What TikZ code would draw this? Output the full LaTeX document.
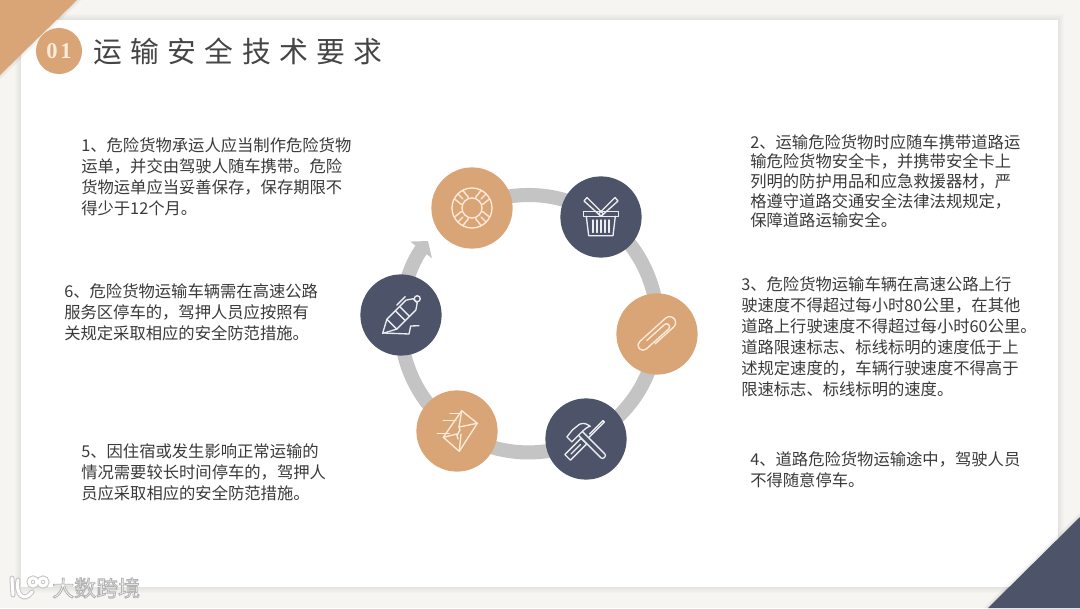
\documentclass[tikz,border=0pt]{standalone}
\usepackage{fontspec}
\usepackage{xcolor}
\usetikzlibrary{arrows.meta,backgrounds}
\setmainfont{Noto Sans CJK SC}
\newfontfamily\titlefont[LetterSpace=29]{Noto Sans CJK SC}
\newfontfamily\badgefont[LetterSpace=12]{Liberation Serif}
\definecolor{PageBack}{HTML}{F6F5F1}
\definecolor{SlideOrange}{HTML}{DAA576}
\definecolor{SlideNavy}{HTML}{4D5368}
\definecolor{RingGrey}{HTML}{C4C4C4}
\definecolor{BodyText}{HTML}{3A3A3A}
\definecolor{TitleText}{HTML}{454545}
\definecolor{IconCream}{HTML}{FBEBDA}
\definecolor{IconPale}{HTML}{ECEDF0}
\tikzset{
  orangedot/.style={circle,fill=SlideOrange,minimum size=2.03cm,inner sep=0pt},
  navydot/.style={circle,fill=SlideNavy,minimum size=2.03cm,inner sep=0pt},
  ringline/.style={draw=RingGrey,line width=10pt,bend left=30,looseness=.91},
  noteblock/.style={anchor=north west,inner sep=0pt,align=left,text=BodyText,font=\fontsize{11.6}{15}\selectfont},
  creamline/.style={draw=IconCream,line width=.95pt,line join=round,line cap=round},
  paleline/.style={draw=IconPale,line width=.95pt,line join=round,line cap=round},
}
\begin{document}
\begin{tikzpicture}[x=.025cm,y=.025cm]
\useasboundingbox (0,0) rectangle (1080,608);
% round dots of the ring
\node[orangedot] (lifering) at (472,400) {};
\node[navydot] (basket) at (601,391) {};
\node[orangedot] (clip) at (657,274) {};
\node[navydot] (tools) at (586,169) {};
\node[orangedot] (mail) at (457,177) {};
\node[navydot] (pen) at (401,293) {};
\coordinate (arrowtip) at (428,367);
\begin{scope}[on background layer]
\fill[PageBack] (0,0) rectangle (1080,608);
\foreach \d in {1,...,6}
  \fill[black,opacity=.012] (21-\d,21-\d) rectangle (1058+\d,588+\d);
\fill[white] (21,21) rectangle (1058,588);
\draw[ringline] (lifering.center) to (basket.center);
\draw[ringline] (basket.center) to (clip.center);
\draw[ringline] (clip.center) to (tools.center);
\draw[ringline] (tools.center) to (mail.center);
\draw[ringline] (mail.center) to (pen.center);
\draw[draw=RingGrey,line width=10pt,-{Triangle[length=8pt,width=19pt]}] (pen.center) to[bend left=17.5,looseness=.87] (arrowtip);
\end{scope}
% corners
\foreach \d in {1,...,5}
  \fill[black,opacity=.015] (0,608) -- (77+\d,608) -- (0,533-\d) -- cycle;
\fill[SlideOrange] (0,608) -- (77,608) -- (0,533) -- cycle;
\foreach \d in {1,...,5}
  \fill[black,opacity=.015] (1080,0) -- (988-\d,0) -- (1080,91+\d) -- cycle;
\fill[SlideNavy] (1080,0) -- (988,0) -- (1080,91) -- cycle;
% title
\node[circle,fill=SlideOrange,minimum size=1.15cm,inner sep=0pt,text=IconCream,font=\badgefont\bfseries\fontsize{16}{16}\selectfont] (badge) at (59,557) {01};
\node[anchor=west,inner sep=0pt,text=TitleText,font=\titlefont\fontsize{20.5}{24}\selectfont] (slidetitle) at (93,557) {运输安全技术要求};
% notes
\node[noteblock] (noteone) at (81,471) {1、危险货物承运人应当制作危险货物\\运单，并交由驾驶人随车携带。危险\\货物运单应当妥善保存，保存期限不\\得少于12个月。};
\node[noteblock,font=\fontsize{11.6}{14}\selectfont] (notetwo) at (750,474) {2、运输危险货物时应随车携带道路运\\输危险货物安全卡，并携带安全卡上\\列明的防护用品和应急救援器材，严\\格遵守道路交通安全法律法规规定，\\保障道路运输安全。};
\node[noteblock] (notethree) at (741,332) {3、危险货物运输车辆在高速公路上行\\驶速度不得超过每小时80公里，在其他\\道路上行驶速度不得超过每小时60公里。\\道路限速标志、标线标明的速度低于上\\述规定速度的，车辆行驶速度不得高于\\限速标志、标线标明的速度。};
\node[noteblock] (notefour) at (750,157) {4、道路危险货物运输途中，驾驶人员\\不得随意停车。};
\node[noteblock] (notefive) at (81,165) {5、因住宿或发生影响正常运输的\\情况需要较长时间停车的，驾押人\\员应采取相应的安全防范措施。};
\node[noteblock] (notesix) at (64,325) {6、危险货物运输车辆需在高速公路\\服务区停车的，驾押人员应按照有\\关规定采取相应的安全防范措施。};
% life ring
\begin{scope}[shift={(lifering.center)},creamline]
\draw (0,0) circle (20);
\draw (0,0) circle (10);
\foreach \a in {45,135,225,315} {
  \draw[rotate=\a] (10,-5) -- (19,-6);
  \draw[rotate=\a] (10,5) -- (19,6);
  \draw[rotate=\a] (13,0) -- (20,0);
}
\end{scope}
% basket
\begin{scope}[shift={(basket.center)},paleline]
\draw (-17.3,5.7) rectangle (17.7,.7);
\draw (-14.7,.7) -- (-12.3,-18.7) -- (12,-18.7) -- (14.3,.7);
\foreach \x in {-8,-4,0,4,8}
  \draw (\x,-3) -- (\x,-15.5);
\draw (-17,16) -- (-14,19.5) -- (2.5,3) -- (0,.7) -- cycle;
\draw (17,16) -- (14,19.5) -- (-2.5,3) -- (0,.7) -- cycle;
\end{scope}
% paper clip
\begin{scope}[shift={(clip.center)},rotate=-48,creamline]
\draw (6,-8) -- (6,17) arc[start angle=0,end angle=180,radius=6] -- (-6,-18) arc[start angle=180,end angle=360,radius=5] -- (4,12) arc[start angle=0,end angle=180,radius=3] -- (-2,-12);
\end{scope}
% hammer and screwdriver
\begin{scope}[shift={(tools.center)},paleline]
\begin{scope}[rotate=-45]
\draw (-1,25) -- (1,25) -- (1,2);
\draw (-1,25) -- (-1,6);
\draw (-4,-3) rectangle (4,-26);
\draw (0,-8) -- (0,-21);
\end{scope}
\begin{scope}[rotate=45]
\draw[fill=SlideNavy,rounded corners=1.5pt] (-2.7,8) -- (-2.7,-26) -- (2.7,-26) -- (2.7,8);
\draw[fill=SlideNavy] (-12,8) -- (-12,15) -- (-3,16) -- (6,15) .. controls (10,13) and (11,11) .. (12,6) .. controls (9,8) and (7,8) .. (-12,8);
\end{scope}
\end{scope}
% envelope
\begin{scope}[shift={(mail.center)},creamline]
\draw (4.7,20.3) -- (20.3,7.7) -- (2.3,-20.3) -- (-13.7,-6.3) -- cycle;
\draw (4.7,20.3) -- (2,4) -- (20.3,7.7);
\draw (-13.7,-6.3) -- (0,-3);
\draw (2.3,-20.3) -- (4,-3);
\draw (2,4) .. controls (6,0) and (-3,-3) .. (1,-8);
\draw (-7,17.7) -- (2.3,17.7);
\draw (-13.7,10.3) -- (-1,10.3);
\draw (-19.7,-2.3) -- (-7.7,-2.3);
\end{scope}
% pen
\begin{scope}[shift={(pen.center)},paleline]
\begin{scope}[rotate=-45]
\draw (0,-26) -- (-7,-13) -- (-7,14) -- (-3,20) -- (3,20) -- (7,14) -- (7,-13) -- cycle;
\draw (-7,-13) -- (7,-13);
\draw (-7,-1) -- (7,-1);
\draw (-7,5) -- (7,5);
\draw (0,23) circle (3);
\draw (-10,4) -- (-10,16);
\end{scope}
\draw (-17,-18) -- (8,-19) -- (9.7,-11) -- (18,-10.7);
\end{scope}
% watermark
\foreach \wm/\lw in {black!22/3.6pt,white/2.1pt} {
  \draw[draw=\wm,line width=\lw,line cap=round] (12,30) -- (13,13);
  \draw[draw=\wm,line width=\lw,line cap=round] (18,28) .. controls (15,14) and (24,5) .. (32,16);
  \draw[draw=\wm,line width=\lw] (33,26) circle (4);
  \draw[draw=\wm,line width=\lw] (43,26) circle (4);
}
\node[anchor=west,inner sep=0pt,font=\fontsize{15.6}{18}\selectfont] (watermark) at (52,20) {\color{white}\special{pdf:code 2 Tr .6 w .7 .7 .7 RG}大数跨境\special{pdf:code 0 Tr 0 w}};
\end{tikzpicture}
\end{document}
